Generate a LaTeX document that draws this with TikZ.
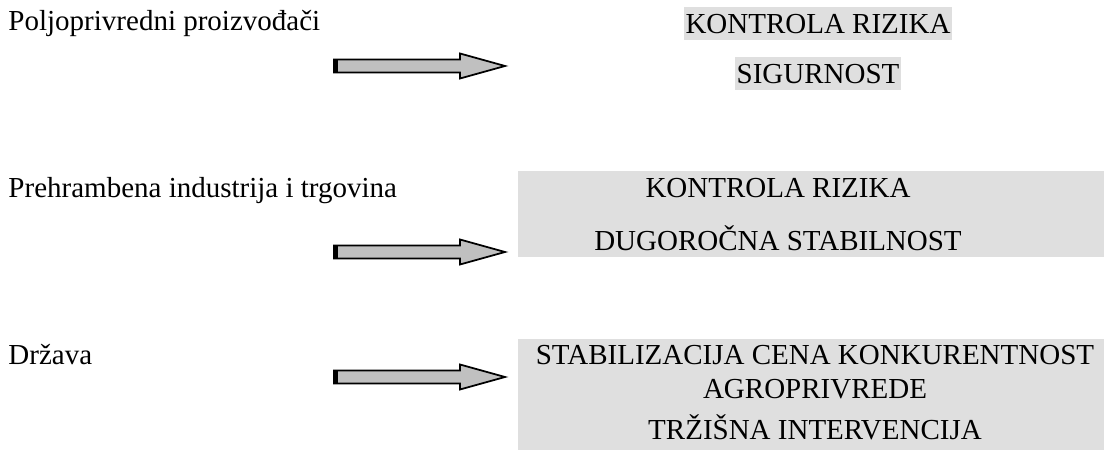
\documentclass[tikz,border=0pt]{standalone}
\usepackage{fontspec}
\setmainfont{Liberation Serif}
\usepackage{tikz}

\definecolor{boxgray}{RGB}{223,223,223}
\definecolor{arrowgray}{RGB}{192,192,192}

\begin{document}
\begin{tikzpicture}[x=0.4pt,y=-0.4pt,
    every node/.style={font=\fontsize{11.6}{13.6}\selectfont, inner sep=0pt},
    mark box/.style={fill=boxgray, inner xsep=0.6pt, text height=10.8pt, text depth=2.6pt},
    block arrow/.style={draw=black, line width=0.7pt, fill=arrowgray}]
    \useasboundingbox (0,0) rectangle (1104,451);

    % Grey boxes
    \fill[boxgray] (518,171) rectangle (1104,257);
    \fill[boxgray] (518,339) rectangle (1104,450);

    % Left labels
    \node[anchor=base west] (prod) at (8,31) {Poljoprivredni proizvođači};
    \node[anchor=base west] (ind) at (8,198) {Prehrambena industrija i trgovina};
    \node[anchor=base west] (drz) at (8,365) {Država};

    % Arrows
    \foreach \c in {66,252,377} {
        \draw[block arrow] (334,\c-6.5) -- (460,\c-6.5) -- (460,\c-12.5) -- (505,\c)
            -- (460,\c+12.5) -- (460,\c+6.5) -- (334,\c+6.5) -- cycle;
        \fill (334,\c-6.5) rectangle (338,\c+6.5);
    }

    % First row
    \node[mark box, anchor=base] (kr1) at (818,34) {KONTROLA RIZIKA};
    \node[mark box, anchor=base] (sig) at (818,84) {SIGURNOST};

    % Second row
    \node[anchor=base] (kr2) at (778,198) {KONTROLA RIZIKA};
    \node[anchor=base] (dug) at (778,251) {DUGOROČNA STABILNOST};

    % Third row
    \node[anchor=base] (stab) at (815,365) {STABILIZACIJA CENA KONKURENTNOST};
    \node[anchor=base] (agro) at (815,399) {AGROPRIVREDE};
    \node[anchor=base] (trz) at (815,439) {TRŽIŠNA INTERVENCIJA};
\end{tikzpicture}
\end{document}
